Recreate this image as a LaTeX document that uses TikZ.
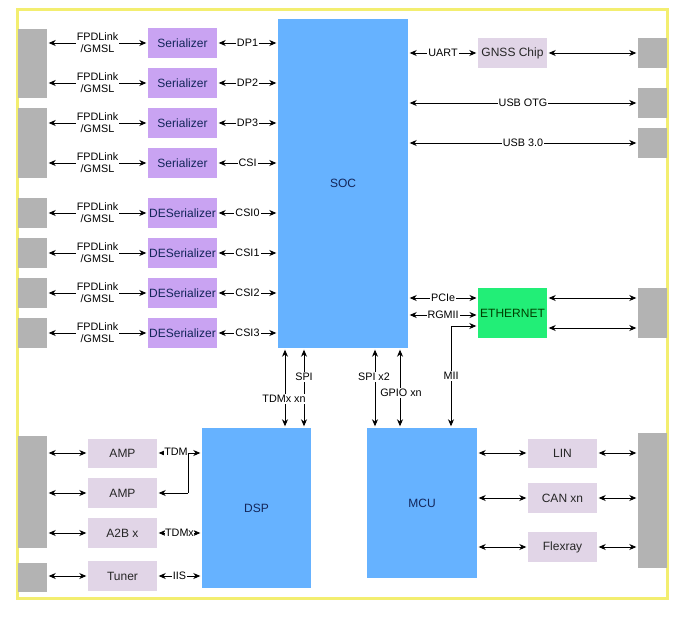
\documentclass[tikz,border=0pt]{standalone}
\usepackage{fontspec}
\setmainfont{Liberation Sans}
\usetikzlibrary{arrows.meta}
\definecolor{gblk}{HTML}{B3B3B3}
\definecolor{serc}{HTML}{C9A3F2}
\definecolor{lavc}{HTML}{E1D5E7}
\definecolor{bluec}{HTML}{66B2FF}
\definecolor{greenc}{HTML}{22EE77}
\definecolor{navy}{HTML}{13265A}
\definecolor{yel}{HTML}{F3EE70}
\tikzset{
  gblock/.style={fill=gblk, draw=none, inner sep=0pt, minimum width=29pt},
  serbox/.style={fill=serc, draw=none, inner sep=0pt, minimum width=69pt, minimum height=30pt, font=\fontsize{12}{14}\selectfont, text=navy},
  lavbox/.style={fill=lavc, draw=none, inner sep=0pt, minimum width=69pt, minimum height=30pt, font=\fontsize{12}{14}\selectfont, text=black!85},
  bigbox/.style={fill=bluec, draw=none, inner sep=0pt, font=\fontsize{12}{14}\selectfont, text=navy},
  lbl/.style={fill=white, inner sep=1pt, font=\fontsize{10.8}{12}\selectfont, align=center},
  conn/.style={line width=0.9pt, {Stealth[length=7pt,width=6pt,inset=2.2pt]}-{Stealth[length=7pt,width=6pt,inset=2.2pt]}, shorten <=1.5pt, shorten >=1.5pt},
  plain/.style={line width=0.9pt},
  tipend/.style={line width=0.9pt, -{Stealth[length=7pt,width=6pt,inset=2.2pt]}, shorten >=1.5pt}
}
\begin{document}
\begin{tikzpicture}[x=1pt,y=-1pt]
\useasboundingbox (0,0) rectangle (685,616);
\fill[white] (0,0) rectangle (685,616);
\draw[yel, line width=3pt] (17,9) rectangle (667,598);

% gray connector blocks left
\node[gblock, minimum height=69pt] (gl1) at (32.5,63.5) {};
\node[gblock, minimum height=70pt] (gl2) at (32.5,143) {};
\node[gblock, minimum height=30pt] (gl3) at (32.5,213) {};
\node[gblock, minimum height=30pt] (gl4) at (32.5,253) {};
\node[gblock, minimum height=30pt] (gl5) at (32.5,293) {};
\node[gblock, minimum height=30pt] (gl6) at (32.5,333) {};
\node[gblock, minimum height=112pt] (gl7) at (32.5,492) {};
\node[gblock, minimum height=29pt] (gl8) at (32.5,577.5) {};
% gray blocks right
\node[gblock, minimum height=30pt] (gr1) at (652.5,53) {};
\node[gblock, minimum height=30pt] (gr2) at (652.5,103) {};
\node[gblock, minimum height=30pt] (gr3) at (652.5,143) {};
\node[gblock, minimum height=50pt] (gr4) at (652.5,313) {};
\node[gblock, minimum height=135pt] (gr5) at (652.5,500.5) {};

% big boxes
\node[bigbox, minimum width=130pt, minimum height=329pt] (soc) at (343,183.5) {SOC};
\node[bigbox, minimum width=109pt, minimum height=160pt] (dsp) at (256.5,508) {DSP};
\node[bigbox, minimum width=110pt, minimum height=150pt] (mcu) at (422,503) {MCU};

% serializers
\node[serbox] (s1) at (182.5,43) {Serializer};
\node[serbox] (s2) at (182.5,83) {Serializer};
\node[serbox] (s3) at (182.5,123) {Serializer};
\node[serbox] (s4) at (182.5,163) {Serializer};
\node[serbox] (d0) at (182.5,213) {DESerializer};
\node[serbox] (d1) at (182.5,253) {DESerializer};
\node[serbox] (d2) at (182.5,293) {DESerializer};
\node[serbox] (d3) at (182.5,333) {DESerializer};

% left-side links
\foreach \b/\g/\r in {s1/gl1/DP1, s2/gl1/DP2, s3/gl2/DP3, s4/gl2/CSI, d0/gl3/CSI0, d1/gl4/CSI1, d2/gl5/CSI2, d3/gl6/CSI3}{
  \draw[conn] (\b.west -| \g.east) -- node[lbl]{FPDLink\\/GMSL} (\b.west);
  \draw[conn] (\b.east) -- node[lbl]{\r} (\b.east -| soc.west);
}

% right top
\node[lavbox] (gnss) at (512.5,53) {GNSS Chip};
\draw[conn] (gnss.west -| soc.east) -- node[lbl]{UART} (gnss.west);
\draw[conn] (gnss.east) -- (gr1.west);
\draw[conn] (gr2.west -| soc.east) -- node[lbl]{USB OTG} (gr2.west);
\draw[conn] (gr3.west -| soc.east) -- node[lbl]{USB 3.0} (gr3.west);

% ethernet
\node[fill=greenc, inner sep=0pt, minimum width=69pt, minimum height=50pt, font=\fontsize{12}{14}\selectfont, text=black!75!green] (eth) at (512.5,313) {ETHERNET};
\coordinate (pcie) at (478,298);
\coordinate (rgmii) at (478,315);
\coordinate (miit) at (451,326);
\draw[conn] (pcie -| soc.east) -- node[lbl]{PCIe} (pcie);
\draw[conn] (rgmii -| soc.east) -- node[lbl]{RGMII} (rgmii);
\draw[conn] (eth.east |- pcie) -- (gr4.west |- pcie);
\draw[conn] (eth.east |- 0,328) -- (gr4.west |- 0,328);
\draw[conn] (mcu.north -| miit) -- (miit) -- (miit -| eth.west);
\node[lbl] at (451,376) {MII};

% SOC to DSP / MCU
\coordinate (v1) at (285,388);
\coordinate (v2) at (304,388);
\coordinate (v3) at (375,388);
\coordinate (v4) at (400,388);
\draw[conn] (soc.south -| v1) -- (dsp.north -| v1);
\draw[conn] (soc.south -| v2) -- (dsp.north -| v2);
\draw[conn] (soc.south -| v3) -- (mcu.north -| v3);
\draw[conn] (soc.south -| v4) -- (mcu.north -| v4);
\node[lbl] at (304,377) {SPI};
\node[lbl] at (284,399) {TDMx xn};
\node[lbl] at (374,377) {SPI x2};
\node[lbl] at (401,393) {GPIO xn};

% audio side
\node[lavbox, minimum height=29pt] (amp1) at (122.5,453) {AMP};
\node[lavbox] (amp2) at (122.5,493) {AMP};
\node[lavbox] (a2b) at (122.5,533) {A2B x};
\node[lavbox] (tun) at (122.5,576) {Tuner};
\foreach \b/\g in {amp1/gl7, amp2/gl7, a2b/gl7, tun/gl8}{
  \draw[conn] (\b.west -| \g.east) -- (\b.west);
}
\coordinate (tdmsplit) at (188,453);
\draw[conn] (amp1.east) -- (amp1.east -| dsp.west);
\node[lbl, inner sep=0.3pt] at (176,452) {TDM};
\draw[plain] (tdmsplit) -- (tdmsplit |- amp2);
\draw[tipend] (tdmsplit |- amp2) -- (amp2.east);
\draw[conn] (a2b.east) -- node[lbl, inner sep=0.3pt]{TDMx} (a2b.east -| dsp.west);
\draw[conn] (tun.east) -- node[lbl]{IIS} (tun.east -| dsp.west);

% MCU side
\node[lavbox, minimum height=29pt] (lin) at (562.5,453) {LIN};
\node[lavbox] (can) at (562.5,498) {CAN xn};
\node[lavbox] (flx) at (562.5,547) {Flexray};
\foreach \b in {lin, can, flx}{
  \draw[conn] (\b.west -| mcu.east) -- (\b.west);
  \draw[conn] (\b.east) -- (\b.east -| gr5.west);
}
\end{tikzpicture}
\end{document}
